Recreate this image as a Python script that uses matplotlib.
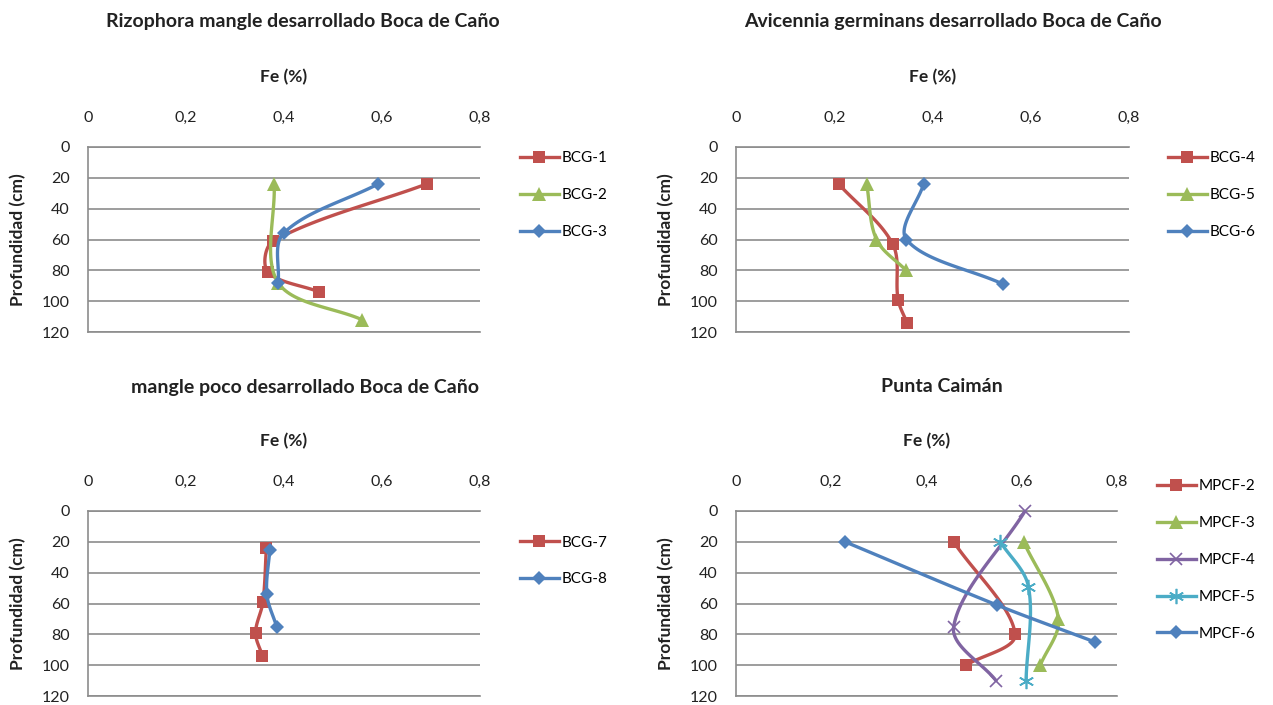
import numpy as np
import matplotlib
matplotlib.use("Agg")
import matplotlib.pyplot as plt
from matplotlib.lines import Line2D

plt.rcParams['font.family'] = ['Lato', 'DejaVu Sans']

# Fe (%) against depth (cm) for each core
bcg1_fe = [0.691, 0.378, 0.367, 0.472]
bcg1_depth = [24, 61, 81, 94]
bcg2_fe = [0.380, 0.388, 0.559]
bcg2_depth = [24, 88, 112]
bcg3_fe = [0.592, 0.399, 0.388]
bcg3_depth = [24, 56, 88]

bcg4_fe = [0.209, 0.319, 0.330, 0.348]
bcg4_depth = [24, 63, 99, 114]
bcg5_fe = [0.266, 0.286, 0.346]
bcg5_depth = [24, 60, 80]
bcg6_fe = [0.382, 0.347, 0.544]
bcg6_depth = [24, 60, 89]

bcg7_fe = [0.364, 0.357, 0.342, 0.356]
bcg7_depth = [24, 59, 79, 94]
bcg8_fe = [0.371, 0.365, 0.385]
bcg8_depth = [25, 54, 75]

mpcf2_fe = [0.457, 0.586, 0.483]
mpcf2_depth = [20, 80, 100]
mpcf3_fe = [0.604, 0.677, 0.639]
mpcf3_depth = [20, 70, 100]
mpcf4_fe = [0.607, 0.457, 0.546]
mpcf4_depth = [0, 75, 110]
mpcf5_fe = [0.555, 0.614, 0.609]
mpcf5_depth = [20, 49, 110]
mpcf6_fe = [0.229, 0.548, 0.754]
mpcf6_depth = [20, 61, 85]

fe_ticks = [0, 0.2, 0.4, 0.6, 0.8]
fe_labels = ['0', '0,2', '0,4', '0,6', '0,8']
depth_ticks = [0, 20, 40, 60, 80, 100, 120]

RED = '#C0504D'
GREEN = '#9BBB59'
BLUE = '#4F81BD'
PURPLE = '#8064A2'
CYAN = '#4BACC6'
GRID = '#8c8c8c'
TEXT = '#222222'

styles = {
    'red': dict(color=RED, marker='s', ms=9, mew=0),
    'green': dict(color=GREEN, marker='^', ms=9.5, mew=0),
    'blue': dict(color=BLUE, marker='D', ms=7, mew=0),
    'purple': dict(color=PURPLE, marker='x', ms=9, mew=1.2),
    'cyan': dict(color=CYAN, marker=(6, 2, 0), ms=11, mew=1.2),
}

W, H = 1273, 705
fig = plt.figure(figsize=(W / 100, H / 100), dpi=100)


def px_axes(left, top, right, bottom):
    return fig.add_axes([left / W, 1 - bottom / H, (right - left) / W, (bottom - top) / H])


def smooth(ax, xs, ys, n=30):
    # smoothed line: cubic Bezier pieces whose handles scale with the chord lengths
    pts = ax.transData.transform(np.column_stack([xs, ys]))
    P = np.vstack([pts[0], pts, pts[-1]])
    t = np.linspace(0, 1, n, endpoint=False)[:, None]
    out = []
    for i in range(1, len(P) - 2):
        p0, p1, p2, p3 = P[i - 1], P[i], P[i + 1], P[i + 2]
        d01 = np.hypot(*(p1 - p0))
        d12 = np.hypot(*(p2 - p1))
        d23 = np.hypot(*(p3 - p2))
        b1 = p1 + (p2 - p0) * d12 / (3 * (d01 + d12))
        b2 = p2 - (p3 - p1) * d12 / (3 * (d12 + d23))
        out.append((1 - t) ** 3 * p1 + 3 * (1 - t) ** 2 * t * b1
                   + 3 * (1 - t) * t ** 2 * b2 + t ** 3 * p2)
    out.append(pts[-1:])
    curve = ax.transData.inverted().transform(np.vstack(out))
    return curve[:, 0], curve[:, 1]


def setup(ax):
    ax.set_xlim(0, 0.8)
    ax.set_ylim(120, 0)
    ax.set_xticks(fe_ticks)
    ax.set_xticklabels(fe_labels)
    ax.set_yticks(depth_ticks)
    ax.xaxis.tick_top()
    ax.grid(axis='y', color=GRID, lw=1.2)
    ax.grid(axis='x', visible=False)
    ax.spines['right'].set_visible(False)
    for side in ['top', 'bottom', 'left']:
        ax.spines[side].set_color(GRID)
        ax.spines[side].set_linewidth(1.2)
    ax.tick_params(axis='x', length=0, pad=16, labelsize=11.5, colors=TEXT)
    ax.tick_params(axis='y', length=0, pad=13, labelsize=11.5, colors=TEXT)
    ax.set_axisbelow(True)
    ax.text(0.5, 1 + 70 / ax.bbox.height, 'Fe (%)', transform=ax.transAxes,
            ha='center', va='center', fontsize=12.5, fontweight='bold', color=TEXT)
    ax.text(-70 / ax.bbox.width, 0.5, 'Profundidad (cm)', transform=ax.transAxes,
            rotation=90, ha='center', va='center', fontsize=12.5,
            fontweight='bold', color=TEXT)


def draw(ax, series, legend_x, legend_y):
    handles = []
    for k, (fe, depth, style, label) in enumerate(series):
        st = styles[style]
        sx, sy = smooth(ax, fe, depth)
        ax.plot(sx, sy, color=st['color'], lw=2.4, solid_capstyle='round', zorder=3 + 2 * k)
        ax.plot(fe, depth, ls='none', marker=st['marker'], ms=st['ms'],
                mfc=st['color'], mec=st['color'], mew=st['mew'], zorder=4 + 2 * k,
                clip_on=False)
        handles.append(Line2D([], [], color=st['color'], lw=2.4, marker=st['marker'],
                              ms=st['ms'], mfc=st['color'], mec=st['color'],
                              mew=st['mew'], label=label))
    ax.legend(handles=handles, loc='center left', bbox_to_anchor=(legend_x / W, 1 - legend_y / H),
              bbox_transform=fig.transFigure, frameon=False, fontsize=11,
              handlelength=2.55, handletextpad=0.15, labelspacing=1.5,
              borderpad=0, borderaxespad=0)


ax1 = px_axes(88, 147, 480, 332)
ax2 = px_axes(736, 147, 1129, 332)
ax3 = px_axes(88, 511, 480, 696)
ax4 = px_axes(736, 511, 1117, 696)
for ax in (ax1, ax2, ax3, ax4):
    setup(ax)

draw(ax1, [(bcg1_fe, bcg1_depth, 'red', 'BCG-1'),
           (bcg2_fe, bcg2_depth, 'green', 'BCG-2'),
           (bcg3_fe, bcg3_depth, 'blue', 'BCG-3')], 520, 195)
draw(ax2, [(bcg4_fe, bcg4_depth, 'red', 'BCG-4'),
           (bcg5_fe, bcg5_depth, 'green', 'BCG-5'),
           (bcg6_fe, bcg6_depth, 'blue', 'BCG-6')], 1168, 195)
draw(ax3, [(bcg7_fe, bcg7_depth, 'red', 'BCG-7'),
           (bcg8_fe, bcg8_depth, 'blue', 'BCG-8')], 520, 561)
draw(ax4, [(mpcf2_fe, mpcf2_depth, 'red', 'MPCF-2'),
           (mpcf3_fe, mpcf3_depth, 'green', 'MPCF-3'),
           (mpcf4_fe, mpcf4_depth, 'purple', 'MPCF-4'),
           (mpcf5_fe, mpcf5_depth, 'cyan', 'MPCF-5'),
           (mpcf6_fe, mpcf6_depth, 'blue', 'MPCF-6')], 1157, 560)

title_kw = dict(ha='center', va='center', fontsize=14, fontweight='bold', color=TEXT)
fig.text(303 / W, 1 - 22 / H, 'Rizophora mangle desarrollado Boca de Caño', **title_kw)
fig.text(953 / W, 1 - 22 / H, 'Avicennia germinans desarrollado Boca de Caño', **title_kw)
fig.text(305 / W, 1 - 387 / H, 'mangle poco desarrollado Boca de Caño', **title_kw)
fig.text(942 / W, 1 - 387 / H, 'Punta Caimán', **title_kw)

fig.savefig('out.png', dpi=100)
